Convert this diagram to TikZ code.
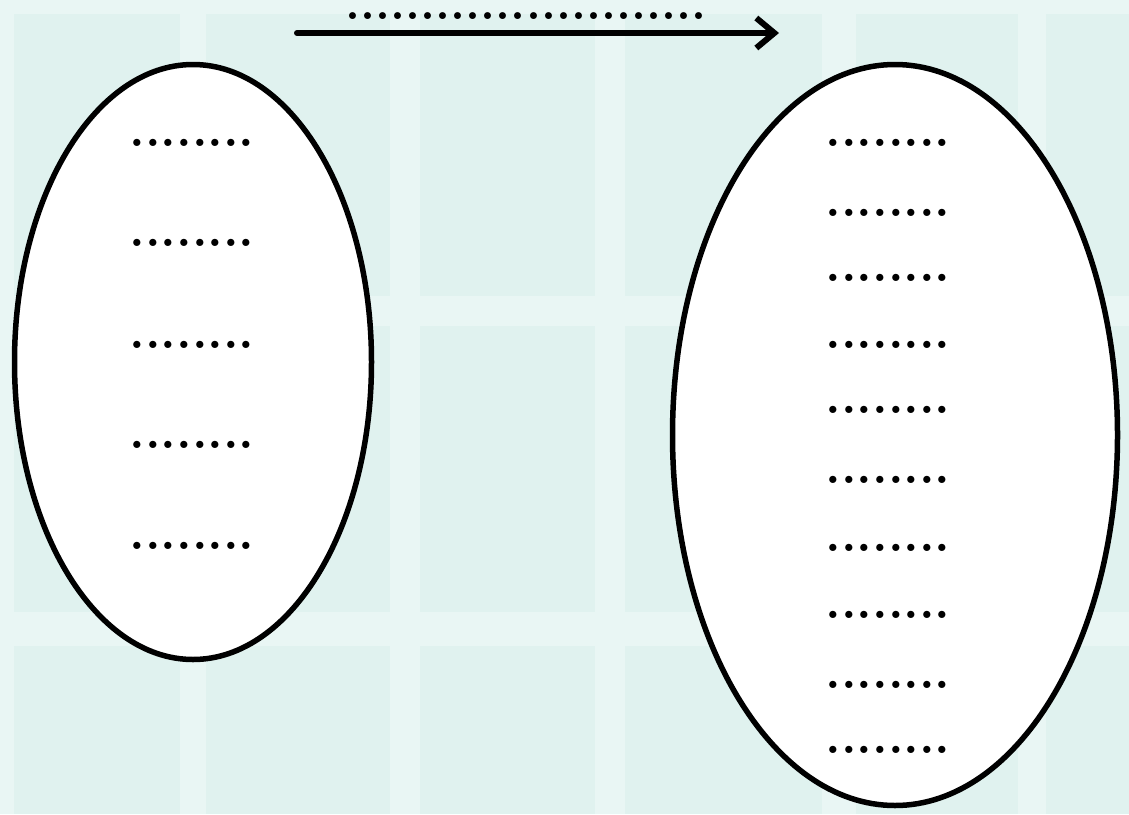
\documentclass[tikz,border=0pt]{standalone}
\usetikzlibrary{arrows.meta,shapes.geometric}
\definecolor{bgbase}{HTML}{E0F2EF}
\definecolor{bgband}{HTML}{E9F6F4}
\tikzset{
  setbox/.style={draw=black, line width=5.5pt, fill=white, ellipse, inner sep=0pt},
  dotlabel/.style={inner sep=0pt, font=\bfseries\fontsize{50}{50}\selectfont},
  toplabel/.style={inner sep=0pt, font=\bfseries\fontsize{48}{48}\selectfont},
  maparrow/.style={line width=6pt, -{Straight Barb[length=18pt,width=30pt,line width=6pt]}, line cap=round}
}
\begin{document}
\begin{tikzpicture}[x=1pt,y=-1pt]
\useasboundingbox (0,0) rectangle (1129,814);
% background
\fill[bgbase] (0,0) rectangle (1129,814);
\foreach \a/\b in {0/14,180/206,390/420,595/625,822/856,1018/1046}
  \fill[bgband] (\a,0) rectangle (\b,814);
\foreach \a/\b in {0/14,296/326,612/646}
  \fill[bgband] (0,\a) rectangle (1129,\b);
% sets
\node[setbox, minimum width=357pt, minimum height=595pt] (A) at (193,362) {};
\node[setbox, minimum width=445pt, minimum height=741pt] (B) at (895,435) {};
% arrow
\coordinate (s) at (297,33);
\coordinate (e) at (779,33);
\draw[maparrow] (s) -- (e);
\node[toplabel, anchor=base] (lab) at (526,19) {........................};
% left dots
\foreach \y [count=\i] in {143,243,345,445,546}
  \node[dotlabel, anchor=base] (a\i) at (192,\y+3.5) {........};
% right dots
\foreach \y [count=\i] in {143,213,278,345,410,480,548,615,685,750}
  \node[dotlabel, anchor=base] (b\i) at (888,\y+3.5) {........};
\end{tikzpicture}
\end{document}
